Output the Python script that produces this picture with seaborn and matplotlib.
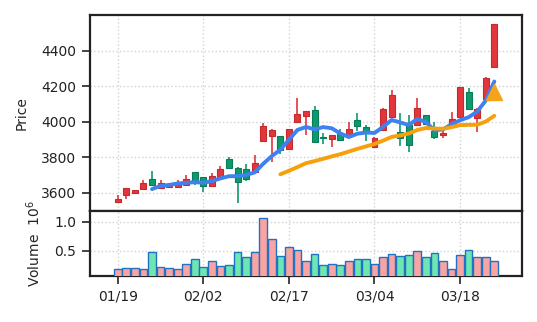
import numpy as np
import pandas as pd
import matplotlib
matplotlib.use("Agg")
import matplotlib.pyplot as plt
import seaborn as sns

# Daily OHLC prices and traded volume (millions)
opens = [3546, 3585, 3597, 3619, 3675, 3628, 3632, 3632, 3643, 3715,
         3687, 3636, 3690, 3788, 3741, 3733, 3718, 3891, 3921, 3921,
         3845, 4000, 4032, 4066, 3916, 3903, 3931, 3925, 4010, 3968,
         3859, 3955, 4028, 3944, 3981, 3981, 4038, 3949, 3925, 3981,
         4025, 4169, 4019, 4126, 4310]
highs = [3587, 3625, 3613, 3672, 3722, 3672, 3655, 3672, 3701, 3715,
         3687, 3713, 3752, 3803, 3745, 3762, 3812, 3991, 3957, 3921,
         3960, 4132, 4062, 4090, 3935, 3923, 3957, 3997, 4047, 3981,
         3915, 4075, 4179, 4047, 4038, 4132, 4040, 3997, 3949, 4053,
         4197, 4188, 4075, 4250, 4553]
lows = [3546, 3563, 3591, 3615, 3638, 3628, 3630, 3632, 3636, 3643,
        3602, 3636, 3690, 3737, 3544, 3668, 3718, 3888, 3775, 3816,
        3845, 4000, 3925, 3884, 3874, 3859, 3891, 3925, 3949, 3893,
        3859, 3945, 4028, 3863, 3831, 3975, 3980, 3900, 3906, 3981,
        4025, 4070, 3944, 4126, 4304]
closes = [3563, 3625, 3613, 3656, 3645, 3655, 3650, 3655, 3675, 3662,
          3640, 3694, 3732, 3737, 3662, 3675, 3766, 3976, 3953, 3841,
          3957, 4042, 4059, 3884, 3907, 3923, 3897, 3957, 3978, 3940,
          3910, 4070, 4150, 3910, 3869, 4079, 3985, 3912, 3938, 4013,
          4194, 4070, 4070, 4248, 4551]
volume_m = [0.18, 0.20, 0.20, 0.18, 0.47, 0.22, 0.20, 0.18, 0.28, 0.36,
            0.22, 0.32, 0.24, 0.25, 0.47, 0.39, 0.47, 1.06, 0.70, 0.41,
            0.56, 0.51, 0.33, 0.44, 0.25, 0.27, 0.25, 0.33, 0.35, 0.35,
            0.28, 0.39, 0.44, 0.41, 0.42, 0.49, 0.39, 0.46, 0.32, 0.18,
            0.42, 0.52, 0.39, 0.39, 0.32]
tick_pos = [0, 10, 20, 30, 40]
tick_labels = ["01/19", "02/02", "02/17", "03/04", "03/18"]
signal_day = 44
signal_price = 4165

sns.set_style("ticks")
plt.rcParams["font.family"] = ["DejaVu Sans"]

df = pd.DataFrame({"day": np.arange(len(closes)), "open": opens, "high": highs,
                   "low": lows, "close": closes, "volume": volume_m})
df["up"] = df["close"] >= df["open"]
df["ma5"] = df["close"].rolling(5).mean()
df["ma20"] = df["close"].rolling(20).mean()

UP, DOWN = "#e2363b", "#0e9a6e"
UP_EDGE, DOWN_EDGE = "#c42a2e", "#0a7d58"
VOL_UP, VOL_DOWN, VOL_EDGE = "#f9a3a3", "#6ee6b2", "#1f72c4"
GRID = dict(linestyle=":", color="#d2d2d2", linewidth=1.0)

fig = plt.figure(figsize=(5.37, 3.22), dpi=100)
ax = fig.add_axes([0.1667, 0.3447, 0.8048, 0.6087])
axv = fig.add_axes([0.1667, 0.1429, 0.8048, 0.2018], sharex=ax)

# candlesticks: wicks then bodies
for row in df.itertuples():
    col = UP if row.up else DOWN
    edge = UP_EDGE if row.up else DOWN_EDGE
    ax.vlines(row.day, row.low, row.high, color=col, linewidth=1.2, zorder=2)
    lo, hi = min(row.open, row.close), max(row.open, row.close)
    ax.bar(row.day, max(hi - lo, 4), bottom=lo, width=0.7, color=col,
           edgecolor=edge, linewidth=0.8, zorder=3)

sns.lineplot(data=df, x="day", y="ma5", ax=ax, color="#3d82f0", linewidth=2.8,
             zorder=4)
sns.lineplot(data=df, x="day", y="ma20", ax=ax, color="#f5a00c", linewidth=2.8,
             zorder=4)
ax.plot([signal_day], [signal_price], marker="^", markersize=12,
        color="#f5a31a", linestyle="none", zorder=5)

# volume panel
sns.barplot(data=df, x="day", y="volume", hue="up",
            palette={True: VOL_UP, False: VOL_DOWN}, native_scale=True,
            dodge=False, width=0.9, saturation=1, edgecolor=VOL_EDGE,
            linewidth=1.0, legend=False, ax=axv, zorder=3)

ax.set_xlim(-3.3, 47.2)
ax.set_ylim(3497, 4601)
axv.set_ylim(0.065, 1.185)

ax.set_yticks([3600, 3800, 4000, 4200, 4400])
axv.set_yticks([0.5, 1.0])
axv.set_yticklabels(["0.5", "1.0"])
axv.set_xticks(tick_pos)
axv.set_xticklabels(tick_labels)

ax.tick_params(axis="x", bottom=False, labelbottom=False)
for a in (ax, axv):
    a.grid(True, **GRID)
    a.set_axisbelow(True)
    a.tick_params(axis="both", length=6, width=1.2, labelsize=10,
                  colors="#222222")
    for s in a.spines.values():
        s.set_visible(True)
        s.set_linewidth(1.6)
        s.set_color("#222222")

ax.set_xlabel("")
ax.set_ylabel("Price", fontsize=10, labelpad=9)
axv.set_xlabel("")
axv.set_ylabel("Volume  $10^6$", fontsize=10, labelpad=8)

fig.savefig("out.png", dpi=100)
